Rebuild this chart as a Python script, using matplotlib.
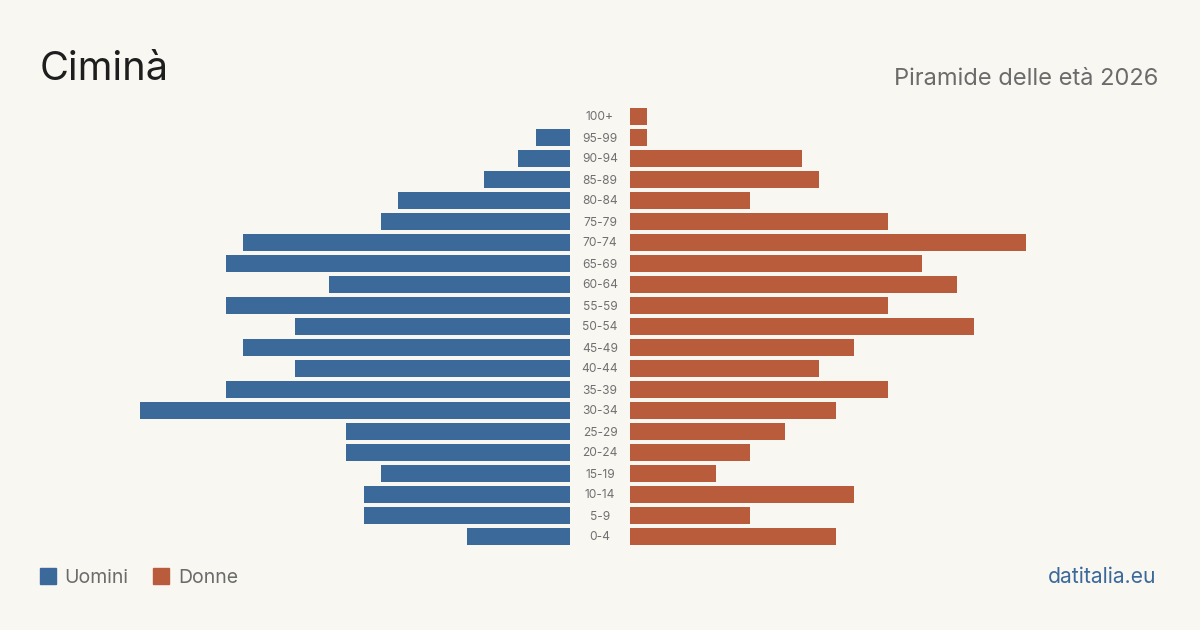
import matplotlib
matplotlib.use("Agg")
import matplotlib.pyplot as plt
from matplotlib.patches import Rectangle

age_groups = ["0-4", "5-9", "10-14", "15-19", "20-24", "25-29", "30-34", "35-39",
              "40-44", "45-49", "50-54", "55-59", "60-64", "65-69", "70-74",
              "75-79", "80-84", "85-89", "90-94", "95-99", "100+"]
men = [6, 12, 12, 11, 13, 13, 25, 20, 16, 19, 16, 20, 14, 20, 19, 11, 10, 5, 3, 2, 0]
women = [12, 7, 13, 5, 7, 9, 12, 15, 11, 13, 20, 15, 19, 17, 23, 15, 7, 11, 10, 1, 1]

BG = "#f9f7f2"
BLUE = "#3b6a9a"
ORANGE = "#b95c3c"
FONT = ["Inter", "DejaVu Sans"]
plt.rcParams["font.family"] = FONT

W, H = 1200, 630
fig = plt.figure(figsize=(12, 6.3), dpi=100, facecolor=BG)

def fx(px):
    return px / W

def fy(py):
    return 1 - py / H

xmax = 25.0
unit_px = 17.2
span_px = xmax * unit_px
n = len(age_groups)
row_px = 21
top_px = 116.5 - row_px / 2
bot_px = 536.5 + row_px / 2

axL = fig.add_axes([fx(570 - span_px), fy(bot_px), fx(span_px), (bot_px - top_px) / H])
axR = fig.add_axes([fx(630), fy(bot_px), fx(span_px), (bot_px - top_px) / H])
ys = list(range(n))
axL.barh(ys, men, height=0.8, color=BLUE)
axR.barh(ys, women, height=0.8, color=ORANGE)
axL.set_xlim(xmax, 0)
axR.set_xlim(0, xmax)
for ax in (axL, axR):
    ax.set_ylim(-0.5, n - 0.5)
    ax.axis("off")
    ax.set_facecolor("none")

for i, g in enumerate(age_groups):
    ypx = 537.5 - i * row_px
    fig.text(fx(600), fy(ypx), g, ha="center", va="center", fontsize=8.6, color="#707070")

fig.text(fx(40), fy(80), "Ciminà", fontsize=28.6, color="#1e1e1e", ha="left", va="baseline")
fig.text(fx(1158), fy(85), "Piramide delle età 2026", fontsize=17.0, color="#6b6b6b",
         ha="right", va="baseline")

fig.patches.append(Rectangle((fx(40), fy(584)), fx(16), 16 / H, color=BLUE, transform=fig.transFigure))
fig.text(fx(64), fy(583), "Uomini", fontsize=14, color="#6b6b6b", ha="left", va="baseline")
fig.patches.append(Rectangle((fx(153), fy(584)), fx(16), 16 / H, color=ORANGE, transform=fig.transFigure))
fig.text(fx(178), fy(583), "Donne", fontsize=14, color="#6b6b6b", ha="left", va="baseline")
fig.text(fx(1156), fy(583), "datitalia.eu", fontsize=15.2, color=BLUE, ha="right", va="baseline")

fig.savefig("out.png", dpi=100, facecolor=BG)
